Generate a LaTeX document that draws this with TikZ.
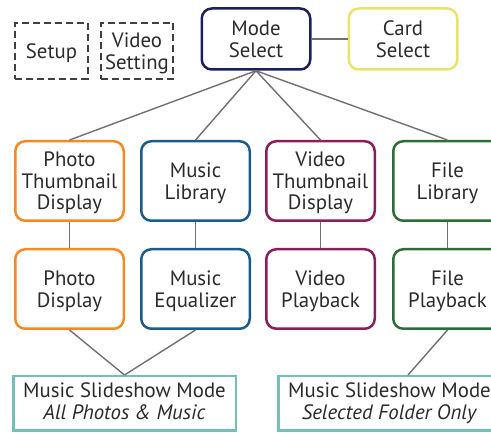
\documentclass[tikz,border=0pt]{standalone}
\usepackage{fontspec}
\setmainfont{PT Sans}
\definecolor{txt}{HTML}{2B2B2B}
\definecolor{wire}{HTML}{707070}
\definecolor{navy}{HTML}{1B1F5E}
\definecolor{lemon}{HTML}{EAE26A}
\definecolor{photo}{HTML}{F58A22}
\definecolor{music}{HTML}{1C5A8C}
\definecolor{video}{HTML}{8C1D5C}
\definecolor{files}{HTML}{2E6E35}
\definecolor{teal}{HTML}{73C0BA}

\begin{document}
\begin{tikzpicture}[x=1pt,y=-1pt,
    every node/.style={align=center,text=txt,inner sep=0pt,font=\fontsize{20.8}{21.5}\selectfont,
        text depth=-8.5pt},
    box/.style={draw,rounded corners=10pt,line width=2.5pt,minimum width=108.5pt,minimum height=79.5pt},
    topbox/.style={box,minimum height=61pt,text depth=-5pt},
    setbox/.style={draw=txt!90,dash pattern=on 7pt off 4pt,line width=2.2pt,minimum width=72.5pt,minimum height=56pt},
    slide/.style={draw=teal,line width=2.5pt,minimum width=222.5pt,minimum height=54.5pt,text depth=4.9pt},
    wired/.style={draw=wire,line width=1.4pt}]
    \clip (0,0) rectangle (491,433);
    \useasboundingbox (0,0) rectangle (491,433);

    % top row
    \node[setbox] (su) at (51.5,51){Setup};
    \node[setbox] (vs) at (137,51){Video\\Setting};
    \node[topbox,draw=navy] (ms) at (256,39){Mode\\Select};
    \node[topbox,draw=lemon] (cs) at (403,39){Card\\Select};
    \draw[wired] (ms) -- (cs);

    % libraries
    \node[box,draw=photo] (ptd) at (69.5,181){Photo\\Thumbnail\\Display};
    \node[box,draw=music] (ml) at (195.5,181){Music\\Library};
    \node[box,draw=video] (vtd) at (320.5,181){Video\\Thumbnail\\Display};
    \node[box,draw=files] (fl) at (447.5,181){File\\Library};
    \draw[wired] (ms.south) -- (ptd.north);
    \draw[wired] (ms.south) -- (ml.north);
    \draw[wired] (ms.south) -- (vtd.north);
    \draw[wired] (ms.south) -- (fl.north);

    % players
    \node[box,draw=photo] (pd) at (69.5,289){Photo\\Display};
    \node[box,draw=music] (me) at (195.5,289){Music\\Equalizer};
    \node[box,draw=video] (vp) at (320.5,289){Video\\Playback};
    \node[box,draw=files] (fp) at (447.5,289){File\\Playback};
    \draw[wired] (ptd) -- (pd);
    \draw[wired] (ml) -- (me);
    \draw[wired] (vtd) -- (vp);
    \draw[wired] (fl) -- (fp);

    % slideshows
    \node[slide] (sa) at (124.5,403.5){Music Slideshow Mode\\\textit{All Photos \& Music}};
    \node[slide] (sf) at (389.5,403.5){Music Slideshow Mode\\\textit{Selected Folder Only}};
    \draw[wired] (pd.south) -- (sa.north);
    \draw[wired] (me.south) -- (sa.north);
    \draw[wired] (fp.south) -- ([xshift=18.5pt]sf.north);
\end{tikzpicture}
\end{document}
